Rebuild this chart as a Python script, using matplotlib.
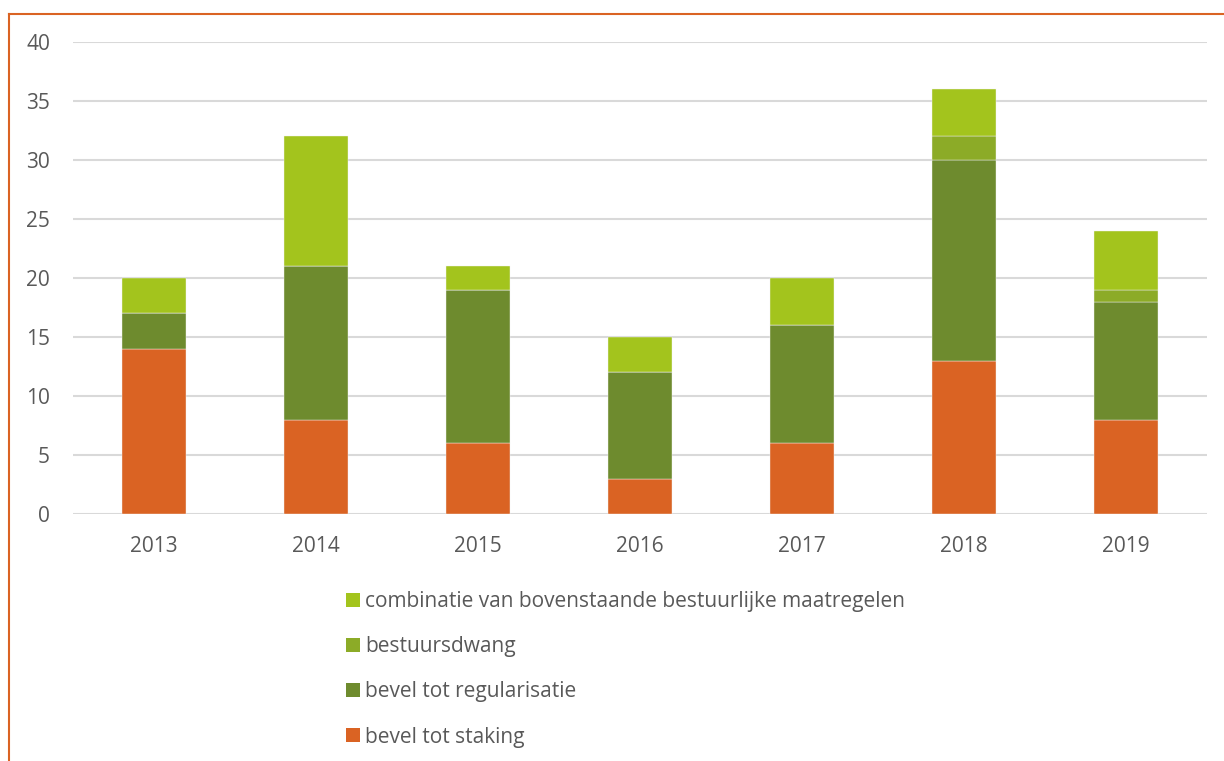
import matplotlib
matplotlib.use("Agg")
import matplotlib.pyplot as plt
from matplotlib.patches import Patch
from matplotlib.lines import Line2D
import numpy as np

years = ["2013", "2014", "2015", "2016", "2017", "2018", "2019"]
staking = [14, 8, 6, 3, 6, 13, 8]
regularisatie = [3, 13, 13, 9, 10, 17, 10]
bestuursdwang = [0, 0, 0, 0, 0, 2, 1]
combinatie = [3, 11, 2, 3, 4, 4, 5]

series = [
    ("bevel tot staking", staking, "#DA6323"),
    ("bevel tot regularisatie", regularisatie, "#6E8B2E"),
    ("bestuursdwang", bestuursdwang, "#8CAB27"),
    ("combinatie van bovenstaande bestuurlijke maatregelen", combinatie, "#A3C41D"),
]

plt.rcParams['font.family'] = ['Open Sans', 'DejaVu Sans']
txt = "#595959"
fs = 15

fig = plt.figure(figsize=(12.24, 7.61), dpi=100)
ax = fig.add_axes([73/1224, 1-514/761, (1207-73)/1224, (514-42)/761])

x = np.arange(len(years))
bottom = np.zeros(len(years))
handles = []
for name, vals, col in series:
    v = np.array(vals, dtype=float)
    ax.bar(x, v, width=0.4, bottom=bottom, color=col, edgecolor="#F2F2F2", linewidth=0.3, zorder=3)
    bottom += v
    handles.append(Patch(facecolor=col, edgecolor="none", label=name))

ax.set_xlim(-0.5, len(years) - 0.5)
ax.set_ylim(0, 40)
ax.set_yticks(range(0, 41, 5))
ax.set_xticks(x)
ax.set_xticklabels(years)
ax.yaxis.grid(True, color="#D9D9D9", linewidth=1.5, zorder=0)
ax.set_axisbelow(True)
for s in ax.spines.values():
    s.set_visible(False)
ax.tick_params(axis="both", length=0, labelsize=fs, labelcolor=txt)
ax.tick_params(axis="x", pad=16)
ax.tick_params(axis="y", pad=16.5)

leg = fig.legend(handles=handles[::-1], loc="upper left", bbox_to_anchor=(346/1224, 1-591/761),
                 frameon=False, fontsize=fs, labelcolor=txt, handlelength=0.68, handleheight=0.68,
                 handletextpad=0.25, labelspacing=1.16, borderaxespad=0, borderpad=0)

# frame lines (top and left) in orange
fig.add_artist(Line2D([9/1224, 1], [1-14/761, 1-14/761], transform=fig.transFigure, color="#DA6323", linewidth=1.5))
fig.add_artist(Line2D([9/1224, 9/1224], [0, 1-14/761], transform=fig.transFigure, color="#DA6323", linewidth=1.5))

fig.savefig("out.png", dpi=100)
